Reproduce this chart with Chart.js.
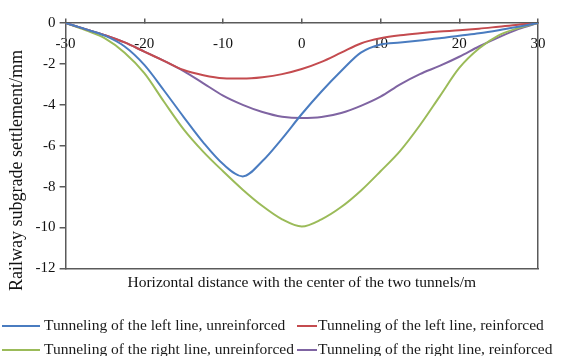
<!DOCTYPE html>
<html>
<head>
<meta charset="utf-8">
<script src="https://cdn.jsdelivr.net/npm/chart.js@4/dist/chart.umd.min.js"></script>
<style>
    html, body { margin: 0; padding: 0; background: #fff; }
    #wrap { position: relative; width: 584px; height: 356px; overflow: hidden; }
    #legend { position: absolute; left: 0; top: 314px; width: 584px; font-family: 'Liberation Serif', 'Times New Roman', serif; font-size: 15.5px; color: #1a1a1a; }
    .item { position: absolute; height: 20px; line-height: 20px; white-space: nowrap; }
    .item .swatch { display: inline-block; vertical-align: middle; height: 2px; }
</style>
</head>
<body>
<div id="wrap">
    <canvas id="settlementChart" width="584" height="356"></canvas>
    <div id="legend"></div>
</div>
<script>
// distance from the centre of the two tunnels (m)
const distances = [-30, -27.5, -25, -22.5, -20, -17.5, -15, -12.5, -10, -7.5, -5, -2.5, 0,
    2.5, 5, 7.5, 10, 12.5, 15, 17.5, 20, 22.5, 25, 27.5, 30];

// settlement (mm)
const leftUnreinforced = [0, -0.3, -0.62, -1.15, -2.05, -3.3, -4.6, -5.85, -6.9, -7.5, -6.75, -5.65, -4.45,
    -3.35, -2.35, -1.45, -1.05, -0.95, -0.85, -0.75, -0.62, -0.5, -0.35, -0.18, 0];
const leftReinforced = [0, -0.3, -0.6, -0.95, -1.4, -1.85, -2.3, -2.55, -2.7, -2.72, -2.65, -2.5, -2.25,
    -1.9, -1.45, -1.0, -0.75, -0.6, -0.5, -0.42, -0.36, -0.28, -0.18, -0.08, 0];
const rightUnreinforced = [0, -0.35, -0.75, -1.45, -2.45, -3.85, -5.2, -6.3, -7.25, -8.15, -8.95, -9.6, -9.95,
    -9.6, -9.0, -8.2, -7.25, -6.25, -5.0, -3.6, -2.2, -1.25, -0.6, -0.25, 0];
const rightReinforced = [0, -0.3, -0.6, -0.95, -1.4, -1.85, -2.35, -2.95, -3.55, -4.0, -4.35, -4.58, -4.65,
    -4.6, -4.4, -4.05, -3.6, -3.0, -2.5, -2.1, -1.65, -1.15, -0.7, -0.3, 0];

const seriesLabels = [
    'Tunneling of the left line, unreinforced',
    'Tunneling of the left line, reinforced',
    'Tunneling of the right line, unreinforced',
    'Tunneling of the right line, reinforced'
];
const seriesColors = ['#4a7cc0', '#c44b4f', '#9bbb59', '#7f64a2'];
const seriesValues = [leftUnreinforced, leftReinforced, rightUnreinforced, rightReinforced];

const xTitle = 'Horizontal distance with the center of the two tunnels/m';
const yTitle = 'Railway subgrade settlement/mm';

const axisColor = '#5a5a5a';
const serif = 'Liberation Serif';

function toPoints(values) {
    return values.map((v, i) => ({ x: distances[i], y: v }));
}

document.addEventListener('DOMContentLoaded', function() {
    const ctx = document.getElementById('settlementChart');

    new Chart(ctx, {
        type: 'line',
        data: {
            datasets: seriesValues.map((vals, i) => ({
                label: seriesLabels[i],
                data: toPoints(vals),
                borderColor: seriesColors[i],
                backgroundColor: seriesColors[i],
                borderWidth: 2,
                pointRadius: 0,
                fill: false,
                cubicInterpolationMode: 'monotone'
            }))
        },
        options: {
            responsive: false,
            animation: false,
            layout: {
                padding: { left: 1, right: 46, top: 23, bottom: 64 }
            },
            plugins: {
                legend: { display: false },
                tooltip: { enabled: false }
            },
            scales: {
                x: {
                    type: 'linear',
                    min: -30,
                    max: 30,
                    position: { y: 0 },
                    ticks: {
                        stepSize: 10,
                        padding: 17,
                        color: '#111',
                        font: { family: serif, size: 15 }
                    },
                    grid: { drawOnChartArea: false, tickLength: -5, color: axisColor, lineWidth: 1.5 },
                    border: { color: axisColor, width: 1.5 }
                },
                x2: {
                    type: 'linear',
                    min: -30,
                    max: 30,
                    position: 'bottom',
                    ticks: { display: false },
                    grid: { display: false, drawTicks: false },
                    border: { color: axisColor, width: 1.5 },
                    title: {
                        display: true,
                        text: xTitle,
                        color: '#111',
                        padding: { top: 5, bottom: 0 },
                        font: { family: serif, size: 15.5 }
                    }
                },
                y: {
                    min: -12,
                    max: 0,
                    position: 'left',
                    ticks: {
                        stepSize: 2,
                        padding: 4,
                        color: '#111',
                        font: { family: serif, size: 15 }
                    },
                    grid: { drawOnChartArea: false, tickLength: 6, color: axisColor, lineWidth: 1.5 },
                    border: { color: axisColor, width: 1.5 },
                    title: {
                        display: true,
                        // trailing no-break spaces nudge the rotated title down, as in the original
                        text: yTitle + '\u00a0'.repeat(11),
                        color: '#111',
                        padding: { top: 5, bottom: 4 },
                        font: { family: serif, size: 18 }
                    }
                },
                y2: {
                    min: -12,
                    max: 0,
                    position: 'right',
                    ticks: { display: false },
                    grid: { display: false, drawTicks: false },
                    border: { color: axisColor, width: 1.5 }
                }
            }
        }
    });

    // two-column legend under the chart
    const legend = document.getElementById('legend');
    const spots = [
        { left: 2, top: 1, line: 38, gap: 4 },
        { left: 297, top: 1, line: 20, gap: 1 },
        { left: 2, top: 25, line: 38, gap: 4 },
        { left: 297, top: 25, line: 20, gap: 1 }
    ];
    seriesLabels.forEach((label, i) => {
        const item = document.createElement('div');
        item.className = 'item';
        item.style.left = spots[i].left + 'px';
        item.style.top = spots[i].top + 'px';
        item.innerHTML = '<span class="swatch" style="width:' + spots[i].line + 'px;margin-right:' +
            spots[i].gap + 'px;background:' + seriesColors[i] + '"></span>' + label;
        legend.appendChild(item);
    });
});
</script>
</body>
</html>
